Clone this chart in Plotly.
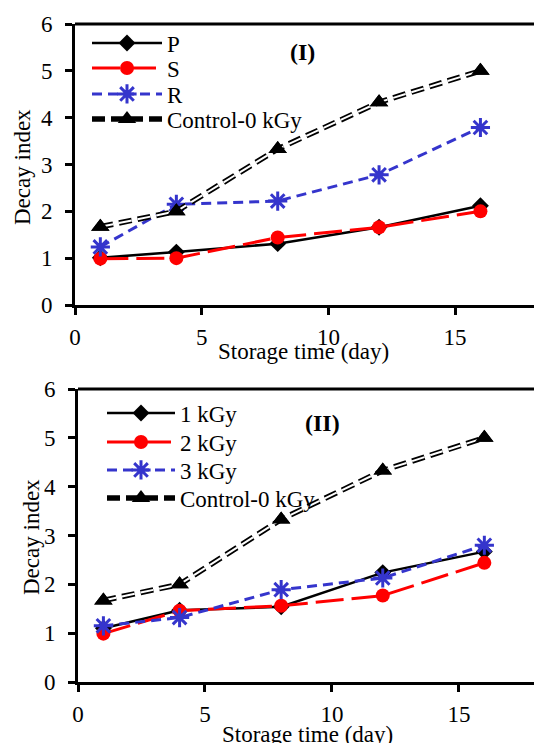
import plotly.graph_objects as go

days = [1, 4, 8, 12, 16]
# Panel I
p_vals = [1.01, 1.13, 1.31, 1.66, 2.12]
s_vals = [0.99, 1.0, 1.44, 1.66, 2.0]
r_vals = [1.24, 2.15, 2.22, 2.78, 3.79]
control_vals = [1.67, 2.0, 3.33, 4.33, 5.0]
# Panel II
kgy1_vals = [1.1, 1.47, 1.54, 2.24, 2.67]
kgy2_vals = [0.99, 1.46, 1.56, 1.77, 2.44]
kgy3_vals = [1.15, 1.32, 1.89, 2.13, 2.8]

x_ticks = [0, 5, 10, 15]
y_ticks = [0, 1, 2, 3, 4, 5, 6]

FONT = "Liberation Serif"
OFF = 8  # page body margin
W, H = 542 - OFF, 743 - OFF
BLUE = "#3535CC"
RED = "#FF0000"
CTRL_DASH = "13px,6px"

def py(pix):
    return 1 - (pix - OFF) / H

def px(pix):
    return (pix - OFF) / W

fig = go.Figure()
legend_layout = {}

def add_panel(xa, ya, legend_ids, names, series):
    styles = [
        dict(color="black", width=2.5, dash="solid", symbol="diamond", size=13, mline=0),
        dict(color=RED, width=3, dash="28px,8px", symbol="circle", size=14, mline=0),
        dict(color=BLUE, width=3, dash="10px,6px", symbol="asterisk-open", size=16, mline=3),
    ]
    for name, vals, st, lg in zip(names, series, styles, legend_ids):
        fig.add_trace(go.Scatter(
            x=days, y=vals, name=name, xaxis=xa, yaxis=ya, legend=lg,
            mode="lines+markers",
            line=dict(color=st["color"], width=st["width"], dash=st["dash"]),
            marker=dict(symbol=st["symbol"], size=st["size"], color=st["color"],
                        line=dict(color=st["color"], width=st["mline"])),
        ))
    # control: outlined dashes
    fig.add_trace(go.Scatter(
        x=days, y=control_vals, name="Control-0 kGy", xaxis=xa, yaxis=ya, legend=legend_ids[3],
        mode="lines+markers",
        line=dict(color="black", width=5.5, dash=CTRL_DASH),
        marker=dict(symbol="triangle-up", size=16, color="black"),
    ))
    fig.add_trace(go.Scatter(
        x=days, y=control_vals, showlegend=False, xaxis=xa, yaxis=ya,
        mode="lines", line=dict(color="white", width=2, dash=CTRL_DASH), hoverinfo="skip",
    ))
    fig.add_trace(go.Scatter(
        x=days, y=control_vals, showlegend=False, xaxis=xa, yaxis=ya,
        mode="markers", marker=dict(symbol="triangle-up", size=16, color="black"),
        hoverinfo="skip",
    ))

ids1 = ["legend", "legend2", "legend3", "legend4"]
ids2 = ["legend5", "legend6", "legend7", "legend8"]
add_panel("x", "y", ids1, ["P", "S", "R"], [p_vals, s_vals, r_vals])
add_panel("x2", "y2", ids2, ["1 kGy", "2 kGy", "3 kGy"], [kgy1_vals, kgy2_vals, kgy3_vals])

# legend item centres (pixels)
leg1_y = [43, 68, 94, 119]
leg2_y = [413, 442, 470, 498]
for ids, ys, lx, iw in [(ids1, leg1_y, 87, 70), (ids2, leg2_y, 102, 68)]:
    for lid, yc in zip(ids, ys):
        legend_layout[lid] = dict(
            x=px(lx), y=py(yc), xanchor="left", yanchor="middle", bgcolor="rgba(0,0,0,0)",
            font=dict(family=FONT, size=23, color="black"), itemwidth=iw, itemsizing="trace",
        )

axis_common = dict(
    showline=True, linecolor="black", linewidth=3, mirror=False,
    ticks="outside", ticklen=7, tickwidth=2.5, tickcolor="black",
    showgrid=False, zeroline=False, automargin=False,
    tickfont=dict(family=FONT, size=23, color="black"),
)
xax = dict(axis_common, ticklabelstandoff=2)
yax = dict(axis_common, ticklabelstandoff=8)

fig.update_layout(
    width=W, height=H,
    margin=dict(l=0, r=0, t=0, b=0, pad=0, autoexpand=False),
    paper_bgcolor="white", plot_bgcolor="white",
    font=dict(family=FONT, color="black"),
    xaxis=dict(domain=[px(75), 1], range=[0, 18.43], tickvals=x_ticks, anchor="y", **xax),
    yaxis=dict(domain=[py(305), py(24)], range=[0, 6], tickvals=y_ticks, anchor="x", **yax),
    xaxis2=dict(domain=[px(78), 1], range=[0, 18.27], tickvals=x_ticks, anchor="y2", **xax),
    yaxis2=dict(domain=[py(682), py(389)], range=[0, 6], tickvals=y_ticks, anchor="x2", **yax),
    showlegend=True,
    **legend_layout,
)

# top frame lines
for top, left in [(24, 75), (389, 78)]:
    fig.add_shape(type="line", xref="paper", yref="paper", x0=px(left), x1=1.01, y0=py(top), y1=py(top),
                  line=dict(color="black", width=3))

ann = [
    dict(text="Decay index", x=px(22), y=py(167), textangle=-90, size=23),
    dict(text="Decay index", x=px(31), y=py(537), textangle=-90, size=23),
    dict(text="Storage time (day)", x=px(303), y=py(351), textangle=0, size=23),
    dict(text="Storage time (day)", x=px(307), y=py(734), textangle=0, size=23),
    dict(text="<b>(I)</b>", x=px(302), y=py(52), textangle=0, size=24),
    dict(text="<b>(II)</b>", x=px(322), y=py(423), textangle=0, size=24),
]
for a in ann:
    fig.add_annotation(text=a["text"], x=a["x"], y=a["y"], xref="paper", yref="paper",
                       xanchor="center", yanchor="middle", showarrow=False, textangle=a["textangle"],
                       font=dict(family=FONT, size=a["size"], color="black"))

fig.write_html("out.html")
